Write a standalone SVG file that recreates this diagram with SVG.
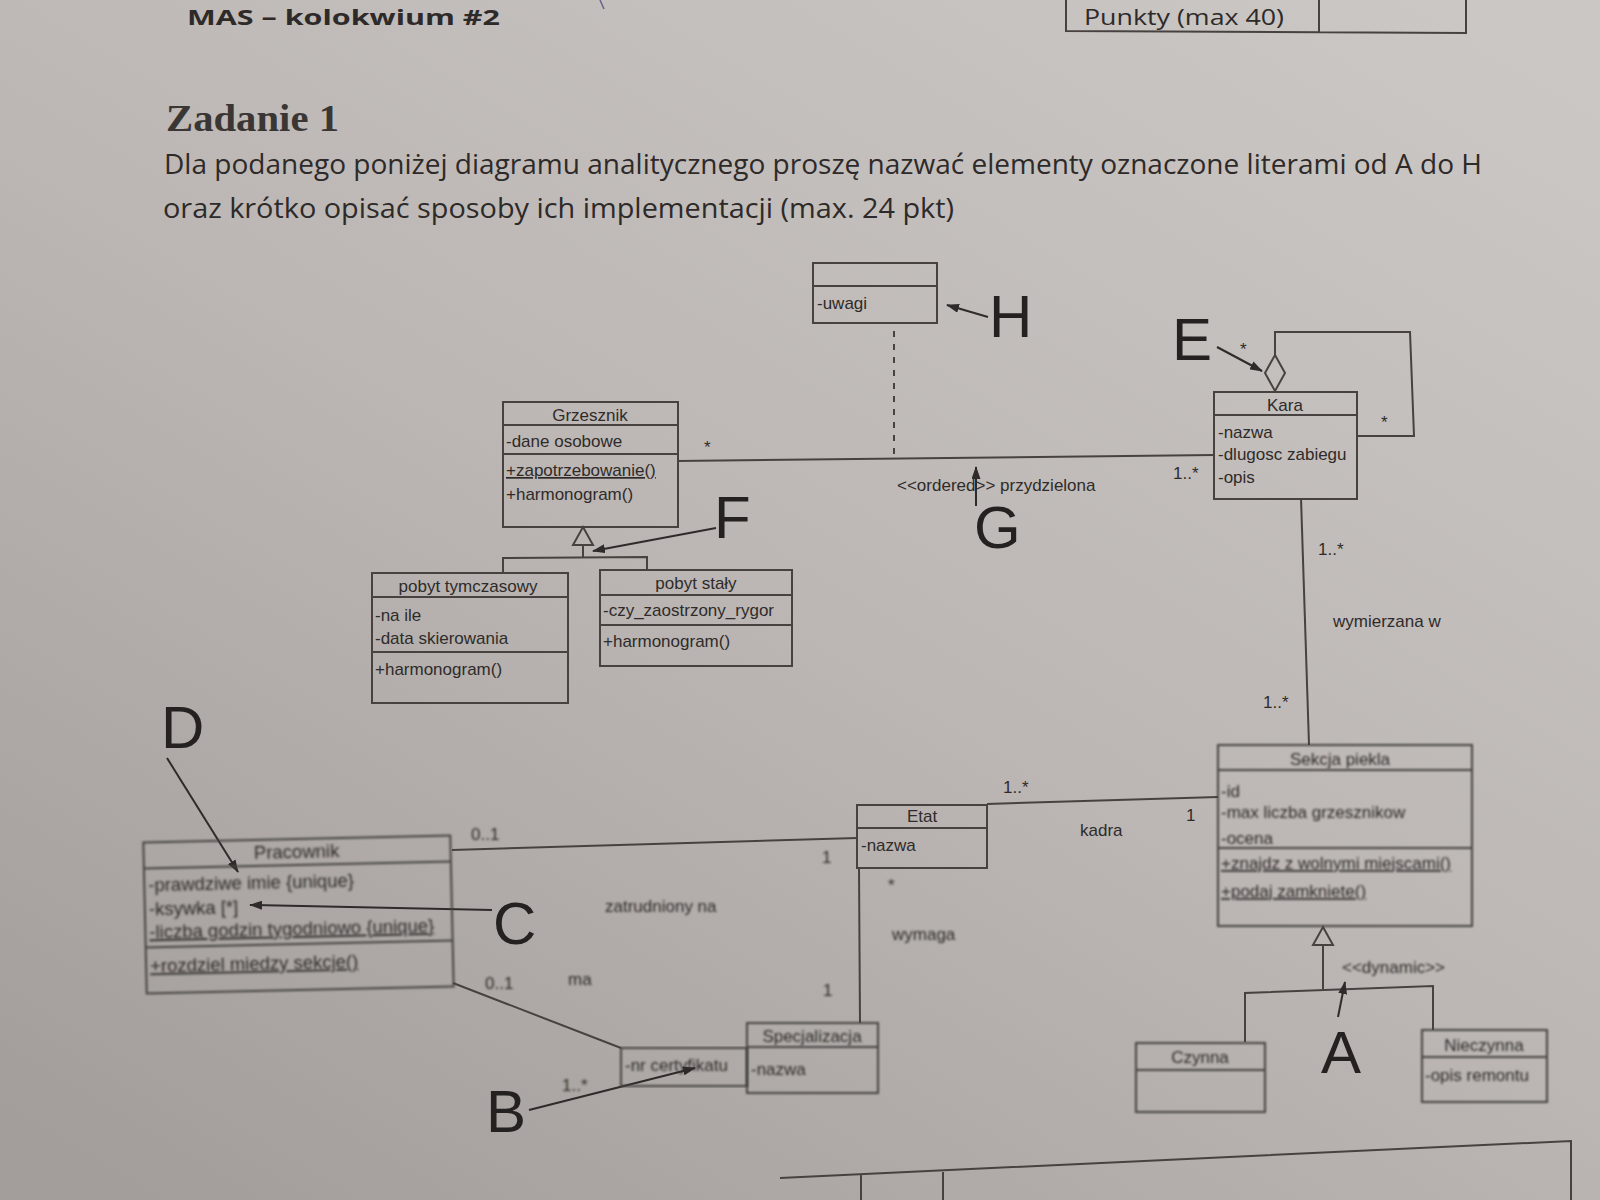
<svg xmlns="http://www.w3.org/2000/svg" width="1600" height="1200" viewBox="0 0 1600 1200">
  <defs>
    <linearGradient id="paper" x1="0.1" y1="1" x2="0.9" y2="0">
      <stop offset="0" stop-color="#a39e9b"/>
      <stop offset="0.5" stop-color="#bcb7b4"/>
      <stop offset="1" stop-color="#cbc7c4"/>
    </linearGradient>
    <marker id="ah" markerUnits="userSpaceOnUse" markerWidth="13" markerHeight="9" refX="12" refY="4.5" orient="auto">
      <path d="M0,0 L13,4.5 L0,9 z" fill="#2f2b2a"/>
    </marker>
    <filter id="soft" x="-5%" y="-5%" width="110%" height="110%">
      <feGaussianBlur stdDeviation="0.9"/>
    </filter>
    <style>
      .ln { stroke: #474240; stroke-width: 2; fill: none; }
      .box { stroke: #474240; stroke-width: 2; fill: none; }
      .t { font-family: "Liberation Sans", Arial, sans-serif; font-size: 17px; fill: #2f2b2a; }
      .tb { font-family: "Liberation Sans", Arial, sans-serif; font-size: 18.5px; fill: #2f2b2a; }
      .c { text-anchor: middle; }
      .u { text-decoration: underline; }
      .big { font-family: "Liberation Sans", Arial, sans-serif; font-size: 60px; fill: #242120; }
      .ptr { stroke: #2f2b2a; stroke-width: 2; fill: none; marker-end: url(#ah); }
      .head { font-family: "Open Sans", "Noto Sans", sans-serif; fill: #2e2a29; }
      .dash { stroke: #474240; stroke-width: 2; stroke-dasharray: 6 7; fill: none; }
    </style>
  </defs>

  <!-- paper -->
  <rect x="0" y="0" width="1600" height="1200" fill="url(#paper)"/>

  <!-- page header -->
  <g id="header">
    <text class="head" x="187" y="25" font-size="22" font-weight="bold" textLength="313" lengthAdjust="spacingAndGlyphs">MAS – kolokwium #2</text>
    <path d="M600,0 L604,9" stroke="#6a5f8a" stroke-width="1.5" fill="none"/>
    <text class="head" x="1084" y="25" font-size="22" textLength="200" lengthAdjust="spacingAndGlyphs">Punkty (max 40)</text>
    <path class="ln" d="M1066,0 V31 L1466,33 V0 M1319,0 V33"/>
    <text x="166" y="131" font-family="'Liberation Serif', serif" font-weight="bold" font-size="37" fill="#3a3634" textLength="173" lengthAdjust="spacingAndGlyphs">Zadanie 1</text>
    <text class="head" x="164" y="174" font-size="28" textLength="1318" lengthAdjust="spacingAndGlyphs">Dla podanego poniżej diagramu analitycznego proszę nazwać elementy oznaczone literami od A do H</text>
    <text class="head" x="163" y="218" font-size="28" textLength="791" lengthAdjust="spacingAndGlyphs">oraz krótko opisać sposoby ich implementacji (max. 24 pkt)</text>
  </g>

  <!-- connectors -->
  <g id="connectors">
    <!-- Grzesznik - Kara -->
    <path class="ln" d="M677,461 L1214,455"/>
    <path class="dash" d="M894,331 V458"/>
    <!-- Kara self aggregation -->
    <path class="ln" d="M1275,355 V332 H1410 L1414,436 H1357"/>
    <polygon class="box" points="1275,355 1285,373 1275,391 1265,373"/>
    <!-- Kara - Sekcja piekla -->
    <path class="ln" d="M1301,498 L1309,745"/>
    <!-- Etat - Sekcja piekla -->
    <path class="ln" d="M987,804 L1218,797"/>
    <!-- Pracownik - Etat -->
    <path class="ln" d="M452,850 L857,838"/>
    <!-- Etat - Specjalizacja -->
    <path class="ln" d="M859,868 L860,1023"/>
    <!-- Pracownik - qualifier -->
    <path class="ln" d="M453,983 L621,1048"/>
    <!-- generalization Grzesznik -->
    <polygon class="box" points="583,527 593,545 573,545"/>
    <path class="ln" d="M583,545 V557 M503,573 V558 L647,557 V570"/>
    <!-- generalization Sekcja piekla -->
    <polygon class="box" points="1323,927 1333,945 1313,945"/>
    <path class="ln" d="M1323,945 V989 M1245,1042 V993 L1433,986 V1030"/>

    <!-- multiplicities and names -->
    <text class="t" x="704" y="453">*</text>
    <text class="t" x="1173" y="479">1..*</text>
    <text class="t" x="897" y="491">&lt;&lt;ordered&gt;&gt; przydzielona</text>
    <text class="t" x="1240" y="355">*</text>
    <text class="t" x="1381" y="428">*</text>
    <text class="t" x="1318" y="555">1..*</text>
    <text class="t" x="1333" y="627">wymierzana w</text>
    <text class="t" x="1263" y="708">1..*</text>
    <text class="t" x="1003" y="793">1..*</text>
    <text class="t" x="1080" y="836">kadra</text>
    <text class="t" x="1186" y="821">1</text>
    <g filter="url(#soft)">
      <text class="t" x="471" y="840">0..1</text>
      <text class="t" x="822" y="863">1</text>
      <text class="t" x="605" y="912">zatrudniony na</text>
      <text class="t" x="888" y="891">*</text>
      <text class="t" x="892" y="940">wymaga</text>
      <text class="t" x="823" y="996">1</text>
      <text class="t" x="485" y="989">0..1</text>
      <text class="t" x="568" y="985">ma</text>
      <text class="t" x="562" y="1091">1..*</text>
      <text class="t" x="1342" y="973">&lt;&lt;dynamic&gt;&gt;</text>
    </g>

    <!-- letter pointers -->
    <path class="ptr" d="M988,317 L947,305"/>
    <path class="ptr" d="M1217,347 L1262,371"/>
    <path class="ptr" d="M976,506 V467"/>
    <path class="ptr" d="M716,528 L593,551"/>
    <path class="ptr" d="M167,758 L238,872"/>
    <path class="ptr" d="M492,910 L250,905"/>
    <path class="ptr" d="M529,1110 L695,1068"/>
    <path class="ptr" d="M1338,1017 L1345,982"/>
  </g>

  <!-- letters -->
  <g id="letters">
    <text class="big" x="989" y="337" font-size="58">H</text>
    <text class="big" x="1172" y="360">E</text>
    <text class="big" x="974" y="548" font-size="58">G</text>
    <text class="big" x="714" y="538">F</text>
    <text class="big" x="161" y="748">D</text>
    <text class="big" x="493" y="944" font-size="62">C</text>
    <text class="big" x="486" y="1132" font-size="64">B</text>
    <text class="big" x="1321" y="1073">A</text>
  </g>

  <!-- association attributes -->
  <g id="uwagi">
    <rect class="box" x="813" y="263" width="124" height="60"/>
    <path class="ln" d="M813,286 H937"/>
    <text class="t" x="817" y="309" font-size="16">-uwagi</text>
  </g>

  <g id="grzesznik">
    <rect class="box" x="503" y="402" width="175" height="125"/>
    <path class="ln" d="M503,425 H678 M503,454 H678"/>
    <text class="t c" x="590" y="421">Grzesznik</text>
    <text class="t" x="506" y="447">-dane osobowe</text>
    <text class="t u" x="506" y="476">+zapotrzebowanie()</text>
    <text class="t" x="506" y="500">+harmonogram()</text>
  </g>

  <g id="pobyt-tymczasowy">
    <rect class="box" x="372" y="573" width="196" height="130"/>
    <path class="ln" d="M372,597 H568 M372,652 H568"/>
    <text class="t c" x="468" y="592">pobyt tymczasowy</text>
    <text class="t" x="375" y="621">-na ile</text>
    <text class="t" x="375" y="644">-data skierowania</text>
    <text class="t" x="375" y="675">+harmonogram()</text>
  </g>

  <g id="pobyt-staly">
    <rect class="box" x="600" y="570" width="192" height="96"/>
    <path class="ln" d="M600,595 H792 M600,625 H792"/>
    <text class="t c" x="696" y="589">pobyt stały</text>
    <text class="t" x="603" y="616">-czy_zaostrzony_rygor</text>
    <text class="t" x="603" y="647">+harmonogram()</text>
  </g>

  <g id="kara">
    <rect class="box" x="1214" y="392" width="143" height="107"/>
    <path class="ln" d="M1214,415 H1357"/>
    <text class="t c" x="1285" y="411">Kara</text>
    <text class="t" x="1218" y="438">-nazwa</text>
    <text class="t" x="1218" y="460">-dlugosc zabiegu</text>
    <text class="t" x="1218" y="483">-opis</text>
  </g>

  <g id="sekcja-piekla" filter="url(#soft)">
    <rect class="box" x="1218" y="745" width="254" height="181"/>
    <path class="ln" d="M1218,770 H1472 M1218,848 H1472"/>
    <text class="t c" x="1340" y="765">Sekcja piekla</text>
    <text class="t" x="1221" y="797">-id</text>
    <text class="t" x="1221" y="818">-max liczba grzesznikow</text>
    <text class="t" x="1221" y="844">-ocena</text>
    <text class="t u" x="1221" y="869">+znajdz z wolnymi miejscami()</text>
    <text class="t u" x="1221" y="897">+podaj zamkniete()</text>
  </g>

  <g id="etat">
    <rect class="box" x="857" y="805" width="130" height="63"/>
    <path class="ln" d="M857,828 H987"/>
    <text class="t c" x="922" y="822">Etat</text>
    <text class="t" x="861" y="851">-nazwa</text>
  </g>

  <g id="pracownik" transform="rotate(-1.3 298 915)" filter="url(#soft)">
    <rect class="box" x="145" y="839" width="307" height="151"/>
    <path class="ln" d="M145,865 H452 M145,944 H452"/>
    <text class="tb c" x="298" y="858">Pracownik</text>
    <text class="tb" x="149" y="888">-prawdziwe imie {unique}</text>
    <text class="tb" x="149" y="912">-ksywka [*]</text>
    <text class="tb u" x="149" y="935">-liczba godzin tygodniowo {unique}</text>
    <text class="tb u" x="149" y="969">+rozdziel miedzy sekcje()</text>
  </g>

  <g id="kwalifikator" filter="url(#soft)">
    <rect class="box" x="621" y="1048" width="126" height="38"/>
    <text class="t" x="625" y="1071">-nr certyfikatu</text>
  </g>

  <g id="specjalizacja" filter="url(#soft)">
    <rect class="box" x="747" y="1023" width="131" height="70"/>
    <path class="ln" d="M747,1047 H878"/>
    <text class="t c" x="812" y="1042">Specjalizacja</text>
    <text class="t" x="751" y="1075">-nazwa</text>
  </g>

  <g id="czynna" filter="url(#soft)">
    <rect class="box" x="1136" y="1043" width="129" height="69"/>
    <path class="ln" d="M1136,1070 H1265"/>
    <text class="t c" x="1200" y="1063">Czynna</text>
  </g>

  <g id="nieczynna" filter="url(#soft)">
    <rect class="box" x="1422" y="1030" width="125" height="72"/>
    <path class="ln" d="M1422,1057 H1547"/>
    <text class="t c" x="1484" y="1051">Nieczynna</text>
    <text class="t" x="1425" y="1081">-opis remontu</text>
  </g>

  <!-- next table on the page -->
  <g id="footer-table">
    <path class="ln" d="M780,1178 L1571,1141 V1200 M861,1175 V1200 M943,1172 V1200"/>
  </g>
</svg>
